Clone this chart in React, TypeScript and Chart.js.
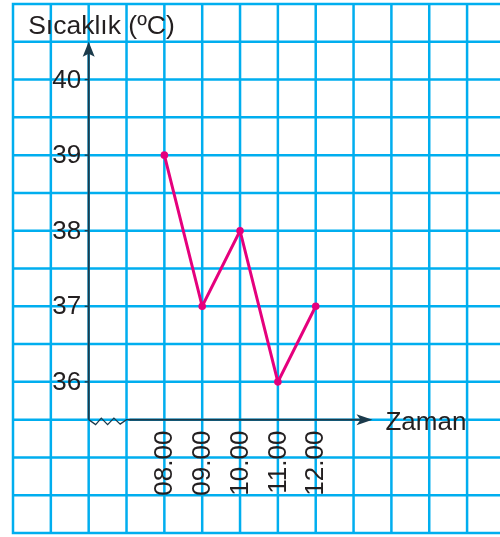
import React, { useEffect, useRef } from "react";
import { Chart, registerables } from "chart.js";

Chart.register(...registerables);

// ---- data ----
const hours = [8, 9, 10, 11, 12];
const hourLabels = ["08.00", "09.00", "10.00", "11.00", "12.00"];
const temperatures = [39, 37, 38, 36, 37];
const yTickValues = [36, 37, 38, 39, 40];
const yTitle = "Sıcaklık (ºC)";
const xTitle = "Zaman";

// ---- layout (value space) ----
const X_MIN = 4;
const X_MAX = 16.87;
const Y_MIN = 34;
const Y_MAX = 41;
const AXIS_X = 6;
const AXIS_Y = 35.5;
const X_ARROW = 13.5;
const Y_ARROW = 40.5;
const BREAK_END = 7;

const GRID = "#00aeef";
const AXIS = "#1b3a4b";
const TEXT = "#231f20";
const LINE = "#e5007d";
const FONT = '26px "Liberation Sans", Arial, Helvetica, sans-serif';

const paperPlugin = {
  id: "paper",
  beforeDatasetsDraw(chart: any) {
    const { ctx } = chart;
    const x = chart.scales.x;
    const y = chart.scales.y;
    const left = x.getPixelForValue(X_MIN);
    const right = chart.width;
    const top = y.getPixelForValue(Y_MAX);
    const bottom = y.getPixelForValue(Y_MIN);

    ctx.save();
    ctx.strokeStyle = GRID;
    ctx.lineWidth = 2.5;
    ctx.beginPath();
    for (let v = X_MIN; v <= X_MAX + 1e-9; v += 1) {
      const px = x.getPixelForValue(v);
      ctx.moveTo(px, top - 1.25);
      ctx.lineTo(px, bottom + 1.25);
    }
    for (let v = Y_MIN; v <= Y_MAX + 1e-9; v += 0.5) {
      const py = y.getPixelForValue(v);
      ctx.moveTo(left - 1.25, py);
      ctx.lineTo(right, py);
    }
    ctx.stroke();

    const ax = x.getPixelForValue(AXIS_X);
    const ay = y.getPixelForValue(AXIS_Y);
    const yTip = y.getPixelForValue(Y_ARROW);
    const xTip = x.getPixelForValue(X_ARROW);
    const brk = x.getPixelForValue(BREAK_END);

    ctx.strokeStyle = AXIS;
    ctx.fillStyle = AXIS;
    ctx.lineWidth = 2;
    ctx.beginPath();
    ctx.moveTo(ax, ay);
    ctx.lineTo(ax, yTip + 10);
    ctx.stroke();
    ctx.beginPath();
    ctx.moveTo(ax, yTip);
    ctx.lineTo(ax - 6, yTip + 15);
    ctx.lineTo(ax, yTip + 12);
    ctx.lineTo(ax + 6, yTip + 15);
    ctx.closePath();
    ctx.fill();

    ctx.lineWidth = 1.3;
    ctx.beginPath();
    const seg = (brk - ax) / 6;
    ctx.moveTo(ax, ay);
    ctx.lineTo(ax + seg * 1.1, ay + 5);
    ctx.lineTo(ax + seg * 2, ay - 1.5);
    ctx.lineTo(ax + seg * 3, ay + 5);
    ctx.lineTo(ax + seg * 4, ay - 1.5);
    ctx.lineTo(ax + seg * 5, ay + 4.5);
    ctx.lineTo(brk, ay);
    ctx.lineTo(brk + 4, ay);
    ctx.stroke();

    ctx.lineWidth = 2;
    ctx.beginPath();
    ctx.moveTo(brk + 3, ay);
    ctx.lineTo(xTip - 10, ay);
    ctx.stroke();
    ctx.beginPath();
    ctx.moveTo(xTip, ay);
    ctx.lineTo(xTip - 16, ay - 5.5);
    ctx.lineTo(xTip - 12, ay);
    ctx.lineTo(xTip - 16, ay + 5.5);
    ctx.closePath();
    ctx.fill();

    ctx.lineWidth = 1.3;
    ctx.fillStyle = TEXT;
    ctx.font = FONT;
    ctx.textAlign = "right";
    ctx.textBaseline = "middle";
    yTickValues.forEach((v) => {
      const py = y.getPixelForValue(v);
      ctx.beginPath();
      ctx.moveTo(ax - 4, py);
      ctx.lineTo(ax, py);
      ctx.stroke();
      ctx.fillText(String(v), ax - 7.5, py + 1);
    });

    hours.forEach((h, i) => {
      const px = x.getPixelForValue(h);
      ctx.save();
      ctx.translate(px + 0.5, ay + 11);
      ctx.rotate(-Math.PI / 2);
      ctx.textAlign = "right";
      ctx.textBaseline = "middle";
      ctx.fillText(hourLabels[i], 0, 0);
      ctx.restore();
    });

    ctx.textAlign = "left";
    ctx.textBaseline = "alphabetic";
    ctx.font = '26.5px "Liberation Sans", Arial, Helvetica, sans-serif';
    ctx.fillText(yTitle, ax - 60.5, y.getPixelForValue(Y_MAX) + 29.5);
    ctx.font = FONT;
    ctx.fillText(xTitle, xTip + 13, ay + 10);

    ctx.restore();
  },
};

export default function App() {
  const canvasRef = useRef<HTMLCanvasElement | null>(null);

  useEffect(() => {
    const canvas = canvasRef.current;
    if (!canvas) return;
    const chart = new Chart(canvas, {
      type: "line",
      data: {
        datasets: [
          {
            data: hours.map((h, i) => ({ x: h, y: temperatures[i] })),
            borderColor: LINE,
            backgroundColor: LINE,
            borderWidth: 3,
            pointRadius: 3.8,
            pointBorderWidth: 0,
            pointBackgroundColor: LINE,
            tension: 0,
            clip: false as any,
          },
        ],
      },
      options: {
        responsive: false,
        animation: false,
        layout: { autoPadding: false, padding: { left: 13, top: 4, right: 0, bottom: 4 } },
        scales: {
          x: { type: "linear", min: X_MIN, max: X_MAX, display: false },
          y: { type: "linear", min: Y_MIN, max: Y_MAX, display: false },
        },
        plugins: {
          legend: { display: false },
          tooltip: { enabled: false },
        },
      },
      plugins: [paperPlugin],
    });
    return () => chart.destroy();
  }, []);

  return (
    <div style={{ position: "absolute", left: 0, top: 0, width: 500, height: 537, background: "#fff" }}>
      <canvas ref={canvasRef} width={500} height={537} style={{ display: "block" }} />
    </div>
  );
}
